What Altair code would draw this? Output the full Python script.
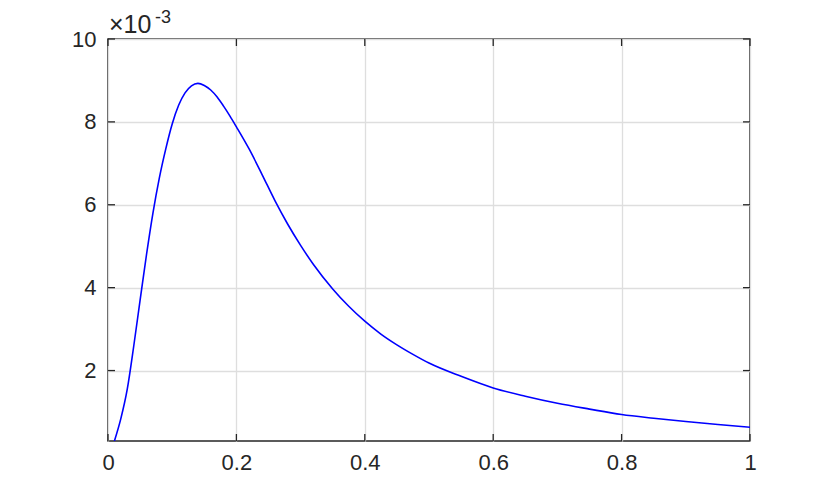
import altair as alt
import pandas as pd

# curve values (y in units of 1e-3)
xs = [0.01, 0.02, 0.03, 0.04, 0.05, 0.06, 0.07, 0.08, 0.09, 0.10,
      0.11, 0.12, 0.13, 0.14, 0.15, 0.16, 0.17, 0.18, 0.19, 0.20,
      0.22, 0.24, 0.26, 0.28, 0.30, 0.32, 0.35, 0.375, 0.40, 0.425,
      0.45, 0.475, 0.50, 0.55, 0.60, 0.65, 0.70, 0.75, 0.80, 0.85,
      0.90, 0.95, 1.00]
ys = [0.30, 0.84, 1.55, 2.58, 3.70, 4.80, 5.80, 6.65, 7.35, 7.95,
      8.40, 8.70, 8.87, 8.93, 8.88, 8.77, 8.60, 8.38, 8.14, 7.88,
      7.34, 6.73, 6.10, 5.53, 5.02, 4.56, 3.97, 3.55, 3.19, 2.88,
      2.62, 2.39, 2.18, 1.86, 1.58, 1.38, 1.21, 1.07, 0.94, 0.85,
      0.77, 0.70, 0.63]

x_ticks = [0, 0.2, 0.4, 0.6, 0.8, 1.0]
y_ticks = [2, 4, 6, 8, 10]
x_domain = [0, 1]
y_domain = [0.3, 10]

W, H = 642, 402
AX = "#262626"
FONT = "Liberation Sans"
FS = 22

df = pd.DataFrame({"x": xs, "y": ys})
dfx = pd.DataFrame({"t": x_ticks})
dfy = pd.DataFrame({"t": y_ticks})

xscale = alt.Scale(domain=x_domain, nice=False, zero=False)
yscale = alt.Scale(domain=y_domain, nice=False, zero=False)

xaxis = alt.Axis(values=x_ticks, format=".1~f", title=None, domain=False, ticks=False,
                 tickSize=0, labelPadding=11, labelFontSize=FS, labelFont=FONT,
                 labelColor=AX, grid=True, gridColor="#dedede", gridWidth=1.3,
                 labelFlush=False)
yaxis = alt.Axis(values=y_ticks, format="d", title=None, domain=False, ticks=False,
                 tickSize=0, labelPadding=12, labelFontSize=FS, labelFont=FONT,
                 labelColor=AX, grid=True, gridColor="#dedede", gridWidth=1.3)

line = alt.Chart(df).mark_line(color="#0000ff", strokeWidth=1.6, clip=True,
                               interpolate="monotone").encode(
    x=alt.X("x:Q", scale=xscale, axis=xaxis),
    y=alt.Y("y:Q", scale=yscale, axis=yaxis),
)

TL = 7
bt = alt.Chart(dfx).mark_rule(color=AX, strokeWidth=1.3).encode(
    x=alt.X("t:Q", scale=xscale, axis=xaxis), y=alt.value(H), y2=alt.value(H - TL))
tt = alt.Chart(dfx).mark_rule(color=AX, strokeWidth=1.3).encode(
    x=alt.X("t:Q", scale=xscale, axis=xaxis), y=alt.value(0), y2=alt.value(TL))
lt = alt.Chart(dfy).mark_rule(color=AX, strokeWidth=1.3).encode(
    y=alt.Y("t:Q", scale=yscale, axis=yaxis), x=alt.value(0), x2=alt.value(TL))
rt = alt.Chart(dfy).mark_rule(color=AX, strokeWidth=1.3).encode(
    y=alt.Y("t:Q", scale=yscale, axis=yaxis), x=alt.value(W), x2=alt.value(W - TL))

exp1 = alt.Chart(pd.DataFrame({"s": ["×10"]})).mark_text(
    align="left", baseline="alphabetic", fontSize=25, font=FONT, color=AX
).encode(text="s:N", x=alt.value(1), y=alt.value(-6))
exp2 = alt.Chart(pd.DataFrame({"s": ["-3"]})).mark_text(
    align="left", baseline="alphabetic", fontSize=18, font=FONT, color=AX
).encode(text="s:N", x=alt.value(47), y=alt.value(-16))

chart = alt.layer(line, bt, tt, lt, rt, exp1, exp2).properties(
    width=W, height=H,
    background="white",
    autosize=alt.AutoSizeParams(type="none"),
    padding={"left": 100, "top": 31, "right": 60, "bottom": 40},
).configure_view(stroke=AX, strokeWidth=1.5)

chart.save("out.html", embed_options={"renderer": "svg", "actions": False})
